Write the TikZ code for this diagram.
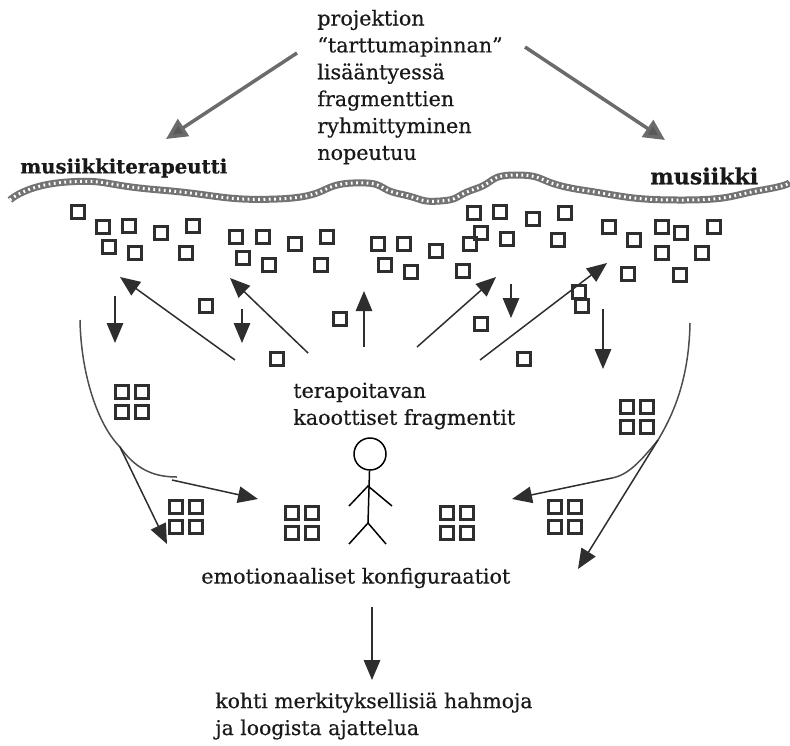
\documentclass[tikz,border=0pt]{standalone}
\usepackage{fontspec}
\setmainfont[RawFeature={embolden=0.5}]{DejaVu Serif}
\usetikzlibrary{arrows.meta}
\definecolor{inkdark}{gray}{0.18}
\tikzset{
  frag/.style    = {draw = inkdark, line width = 0.055cm, minimum size = 0.26cm, inner sep = 0pt},
  label/.style   = {anchor = west, inner sep = 0pt, align = left, font = \fontsize{11.75}{15.3}\selectfont, text = black!90},
  headlbl/.style = {anchor = west, inner sep = 0pt, font = \fontsize{11.2}{12}\selectfont\bfseries, text = black!90},
  post/.style    = {draw = inkdark, line width = 0.03cm, -{Triangle[length = 0.4cm, width = 0.33cm, fill = inkdark]}},
  curve/.style   = {draw = inkdark!85, line width = 0.03cm},
  shade/.style   = {draw = black!58, line width = 0.07cm, -{Triangle[length = 0.42cm, width = 0.4cm, fill = black!65]}},
  limit/.style   = {draw = black!55, line width = 0.14cm},
  grain/.style   = {draw = white, line width = 0.06cm, dash pattern = on 1pt off 2pt}
}
\begin{document}
\begin{tikzpicture}[x = 0.02cm, y = -0.02cm]
      \useasboundingbox (0,0) rectangle (790,745);
      % texts
      \node[label] (proj) at (317,87) {projektion\\``tarttumapinnan''\\lisääntyessä\\fragmenttien\\ryhmittyminen\\nopeutuu};
      \node[headlbl] (mt) at (20,168) {musiikkiterapeutti};
      \node[headlbl, font = \fontsize{12.6}{12}\selectfont\bfseries] (mu) at (650,176) {musiikki};
      \node[label] (tk) at (293,406) {terapoitavan\\kaoottiset fragmentit};
      \node[label] (ek) at (201,578) {emotionaaliset konfiguraatiot};
      \node[label, font = \fontsize{11.6}{15.3}\selectfont] (km) at (215,716) {kohti merkityksellisiä hahmoja\\ja loogista ajattelua};
      % surface
      \draw[limit] plot[smooth, tension = 1] coordinates {(10,200) (67,182) (160,190) (277,199) (353,183)
        (400,194) (440,201) (475,189) (518,175) (582,190) (682,200) (762,190) (790,182)};
      \draw[grain] plot[smooth, tension = 1] coordinates {(10,200) (67,182) (160,190) (277,199) (353,183)
        (400,194) (440,201) (475,189) (518,175) (582,190) (682,200) (762,190) (790,182)};
      % single fragments
      \foreach \x/\y [count = \i] in {78/212, 103/227, 129/226, 161/233, 193/226, 109/247, 135/253, 186/253,
          236/237, 263/237, 295/244, 327/237, 243/258, 269/265, 321/265,
          378/244, 404/244, 436/251, 470/244, 385/265, 411/272, 463/271,
          474/213, 500/212, 533/219, 565/213, 481/233, 507/239, 558/240,
          609/227, 634/240, 662/227, 681/233, 714/227, 662/253, 702/253, 628/274, 680/275,
          206/306, 277/359, 340/319, 481/324, 524/359, 579/292, 582/306}
        \node[frag] (f\i) at (\x,\y) {};
      % grouped fragments
      \foreach \x/\y [count = \i] in {132/402, 186/517, 302/523, 637/417, 457/523, 565/517}
        \foreach \dx/\dy [count = \j] in {-10/-10, 10/-10, -10/10, 10/10}
          \node[frag] (g\i-\j) at (\x+\dx,\y+\dy) {};
      % projection arrows
      \coordinate (ps1) at (297,53);
      \coordinate (pe1) at (166,139);
      \coordinate (ps2) at (525,47);
      \coordinate (pe2) at (665,140);
      \draw[shade] (ps1) -- (pe1);
      \draw[shade] (ps2) -- (pe2);
      % arrows among the fragments
      \foreach \xa/\ya/\xb/\yb [count = \i] in {115/296/115/343, 235/360/120/277, 308/353/230/278, 242/309/242/343,
          364/347/364/291, 417/347/496/277, 480/360/607/263, 511/284/511/318, 603/309/603/369, 372/607/372/680}
      {
        \coordinate (as\i) at (\xa,\ya);
        \coordinate (ae\i) at (\xb,\yb);
        \draw[post] (as\i) -- (ae\i);
      }
      % left bend
      \coordinate (ls) at (80,320);
      \coordinate (lb) at (120,447);
      \coordinate (le) at (177,477);
      \coordinate (lt) at (167,544);
      \coordinate (ln) at (172,480);
      \coordinate (lm) at (258,499);
      \draw[curve] (ls) .. controls (81,375) and (98,425) .. (lb) .. controls (135,468) and (152,477) .. (le);
      \draw[post] (lb) -- (lt);
      \draw[post] (ln) -- (lm);
      % right bend
      \coordinate (rs) at (690,323);
      \coordinate (rb) at (658,440);
      \coordinate (rn) at (612,478);
      \coordinate (rm) at (512,499);
      \coordinate (rt) at (578,569);
      \draw[curve] (rs) .. controls (689,375) and (676,410) .. (rb) .. controls (640,462) and (628,475) .. (rn);
      \draw[post] (rn) -- (rm);
      \draw[post] (rb) -- (rt);
      % person
      \node[draw, circle, line width = 0.03cm, minimum size = 0.64cm, inner sep = 0pt] (head) at (370,454) {};
      \coordinate (hip) at (368,523);
      \coordinate (chest) at (368,486);
      \coordinate (handl) at (349,506);
      \coordinate (handr) at (392,506);
      \coordinate (footl) at (349,544);
      \coordinate (footr) at (386,544);
      \draw[line width = 0.03cm] (head) -- (hip);
      \draw[line width = 0.03cm] (handl) -- (chest) -- (handr);
      \draw[line width = 0.03cm] (footl) -- (hip) -- (footr);
\end{tikzpicture}
\end{document}
